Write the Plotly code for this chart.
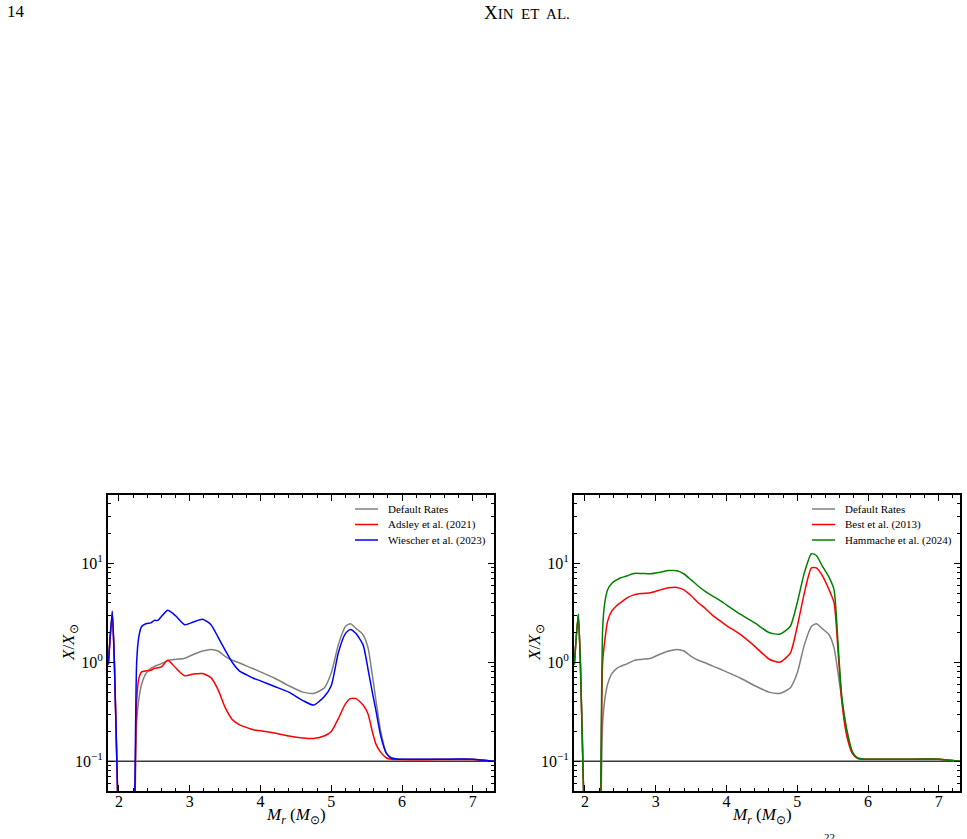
import plotly.graph_objects as go

# ---------------- data ----------------
mr = [1.85, 1.905, 1.935, 1.98, 2.03, 2.20, 2.225, 2.25, 2.28, 2.32, 2.38, 2.45, 2.5, 2.55, 2.6,
      2.69, 2.8, 2.93, 3.05, 3.18, 3.3, 3.4, 3.5, 3.6, 3.7, 3.8, 3.9, 4.0, 4.2, 4.4, 4.6, 4.75,
      4.9, 5.0, 5.1, 5.2, 5.27, 5.35, 5.45, 5.52, 5.58, 5.63, 5.7, 5.78, 5.85, 5.95, 6.5, 7.0, 7.3]

default_rates = [0.95, 3.0, 1.0, 0.05, 0.002, 0.002, 0.03, 0.25, 0.42, 0.6, 0.77, 0.87, 0.91, 0.94, 0.97,
                 1.04, 1.07, 1.1, 1.2, 1.3, 1.35, 1.3, 1.15, 1.05, 0.99, 0.92, 0.86, 0.80, 0.69, 0.58, 0.50, 0.485,
                 0.55, 0.78, 1.5, 2.3, 2.45, 2.2, 1.9, 1.4, 0.75, 0.42, 0.2, 0.12, 0.108, 0.105, 0.105, 0.105, 0.1]

adsley_2021 = [0.95, 3.2, 1.0, 0.05, 0.002, 0.002, 0.04, 0.4, 0.68, 0.8, 0.82, 0.83, 0.87, 0.88, 0.9,
               1.05, 0.88, 0.73, 0.76, 0.77, 0.7, 0.53, 0.35, 0.265, 0.235, 0.22, 0.208, 0.203, 0.193, 0.18, 0.172, 0.17,
               0.18, 0.2, 0.27, 0.38, 0.43, 0.43, 0.37, 0.3, 0.2, 0.15, 0.123, 0.108, 0.105, 0.104, 0.104, 0.104, 0.1]

wiescher_2023 = [0.95, 3.3, 1.0, 0.05, 0.002, 0.002, 0.05, 1.0, 1.8, 2.3, 2.45, 2.5, 2.65, 2.65, 2.9,
                 3.35, 2.95, 2.4, 2.55, 2.72, 2.4, 1.8, 1.33, 1.0, 0.82, 0.75, 0.69, 0.65, 0.57, 0.5, 0.41, 0.37,
                 0.45, 0.58, 1.25, 1.95, 2.15, 1.95, 1.5, 0.85, 0.5, 0.33, 0.18, 0.12, 0.108, 0.105, 0.105, 0.105, 0.1]

best_2013 = [0.95, 3.0, 1.0, 0.05, 0.002, 0.002, 0.06, 1.0, 1.65, 2.6, 3.3, 3.75, 4.0, 4.25, 4.5,
             4.8, 4.95, 5.05, 5.35, 5.65, 5.7, 5.4, 4.7, 4.0, 3.5, 3.0, 2.65, 2.35, 1.9, 1.45, 1.08, 1.0,
             1.23, 2.3, 5.0, 9.0, 9.0, 7.6, 5.4, 4.0, 1.2, 0.4, 0.18, 0.12, 0.107, 0.105, 0.105, 0.105, 0.1]

hammache_2024 = [0.95, 3.1, 1.0, 0.05, 0.002, 0.002, 0.08, 2.2, 4.0, 5.4, 6.3, 6.8, 7.1, 7.3, 7.5,
                 7.9, 7.9, 7.85, 8.1, 8.45, 8.4, 7.8, 6.8, 5.9, 5.2, 4.7, 4.25, 3.8, 3.05, 2.5, 2.0, 1.92,
                 2.3, 4.0, 8.0, 12.5, 12.0, 9.5, 7.2, 5.4, 1.4, 0.45, 0.21, 0.125, 0.108, 0.105, 0.105, 0.105, 0.1]

solar_line = [0.1, 0.1]
line_x = [1.7, 7.5]

x_ticks = [2, 3, 4, 5, 6, 7]
y_ticks = [0.1, 1, 10]
y_ticklabels = ["10<sup>\u22121</sup>", "10<sup>0</sup>", "10<sup>1</sup>"]

left_series = [("Default Rates", default_rates, "#808080"),
               ("Adsley et al. (2021)", adsley_2021, "#ff0000"),
               ("Wiescher et al. (2023)", wiescher_2023, "#0000ff")]
right_series = [("Default Rates", default_rates, "#808080"),
                ("Best et al. (2013)", best_2013, "#ff0000"),
                ("Hammache et al. (2024)", hammache_2024, "#008000")]

# ---------------- figure ----------------
W, H = 967, 839
SERIF = "Liberation Serif"
fig = go.Figure()

for series, xa, ya in [(left_series, "x", "y"), (right_series, "x2", "y2")]:
    fig.add_trace(go.Scatter(x=line_x, y=solar_line, mode="lines", xaxis=xa, yaxis=ya,
                             line=dict(color="#3a3a3a", width=1.5), showlegend=False,
                             hoverinfo="skip"))
    for name, vals, col in series:
        fig.add_trace(go.Scatter(x=mr, y=vals, mode="lines", name=name, xaxis=xa, yaxis=ya,
                                 showlegend=False,
                                 line=dict(color=col, width=1.5, shape="spline", smoothing=0.6)))

def xaxis_cfg(domain, anchor):
    return dict(domain=domain, anchor=anchor, range=[1.845, 7.3], tickmode="array", tickvals=x_ticks,
                ticks="inside", ticklen=6, tickwidth=1.3, tickcolor="black",
                showline=True, linecolor="black", linewidth=1.8, mirror="ticks",
                showgrid=False, zeroline=False, ticklabelstandoff=-5,
                tickfont=dict(family=SERIF, size=16, color="black"),
                minor=dict(dtick=0.2, tick0=0, ticks="inside", ticklen=3.5,
                           tickwidth=1.1, tickcolor="black", showgrid=False))

def yaxis_cfg(domain, anchor):
    return dict(domain=domain, anchor=anchor, type="log", range=[-1.30, 1.69],
                tickmode="array", tickvals=y_ticks, ticktext=y_ticklabels,
                ticks="inside", ticklen=6, tickwidth=1.3, tickcolor="black",
                showline=True, linecolor="black", linewidth=1.8, mirror="ticks",
                showgrid=False, zeroline=False,
                tickfont=dict(family=SERIF, size=16, color="black"),
                minor=dict(dtick="D1", ticks="inside", ticklen=3.5,
                           tickwidth=1.1, tickcolor="black", showgrid=False))

ydom = [(H - 791) / H, (H - 495) / H]
fig.update_layout(
    width=W, height=H, margin=dict(l=0, r=0, t=0, b=0),
    paper_bgcolor="white", plot_bgcolor="white",
    font=dict(family=SERIF, color="black"),
    xaxis=xaxis_cfg([108 / W, 494 / W], "y"),
    yaxis=yaxis_cfg(ydom, "x"),
    xaxis2=xaxis_cfg([574 / W, 960 / W], "y2"),
    yaxis2=yaxis_cfg(ydom, "x2"),
    showlegend=False,
)

# legend drawn as paper-space samples + labels
shapes = []
ann = []
legend_rows = [509, 524.5, 540]
for (series, lx0, lx1, tx) in [(left_series, 355, 378, 386), (right_series, 812, 835, 843)]:
    for (name, _, col), ry in zip(series, legend_rows):
        shapes.append(dict(type="line", xref="paper", yref="paper",
                           x0=lx0 / W, x1=lx1 / W, y0=(H - ry) / H, y1=(H - ry) / H,
                           line=dict(color=col, width=1.5)))
        ann.append(dict(text=name, x=tx / W, y=(H - ry) / H, xref="paper", yref="paper",
                        showarrow=False, xanchor="left", yanchor="middle",
                        font=dict(family=SERIF, size=11, color="black")))

for cx in (296, 762):
    ann.append(dict(text="<i>M<sub>r</sub></i> (<i>M</i><sub>\u2299</sub>)", x=cx / W, y=(H - 816) / H,
                    xref="paper", yref="paper", showarrow=False, xanchor="center", yanchor="middle",
                    font=dict(family=SERIF, size=17, color="black")))
for cx in (70, 536):
    ann.append(dict(text="<i>X</i>/<i>X</i><sub>\u2299</sub>", x=cx / W, y=(H - 643) / H,
                    xref="paper", yref="paper", showarrow=False, xanchor="center", yanchor="middle",
                    textangle=-90, font=dict(family=SERIF, size=17, color="black")))
ann.append(dict(text="14", x=5 / W, y=(H - 12) / H, xref="paper", yref="paper", showarrow=False,
                xanchor="left", yanchor="middle", font=dict(family=SERIF, size=17, color="black")))
ann.append(dict(text="X<span style='font-size:15px'>IN&nbsp; ET&nbsp; AL.</span>",
                x=527 / W, y=(H - 13) / H,
                xref="paper", yref="paper", showarrow=False, xanchor="center", yanchor="middle",
                font=dict(family=SERIF, size=19, color="black")))
ann.append(dict(text="22", x=829 / W, y=(H - 829) / H, xref="paper", yref="paper", showarrow=False,
                xanchor="center", yanchor="top", font=dict(family=SERIF, size=11, color="black")))
fig.update_layout(annotations=ann, shapes=shapes)

fig.write_html("out.html")
